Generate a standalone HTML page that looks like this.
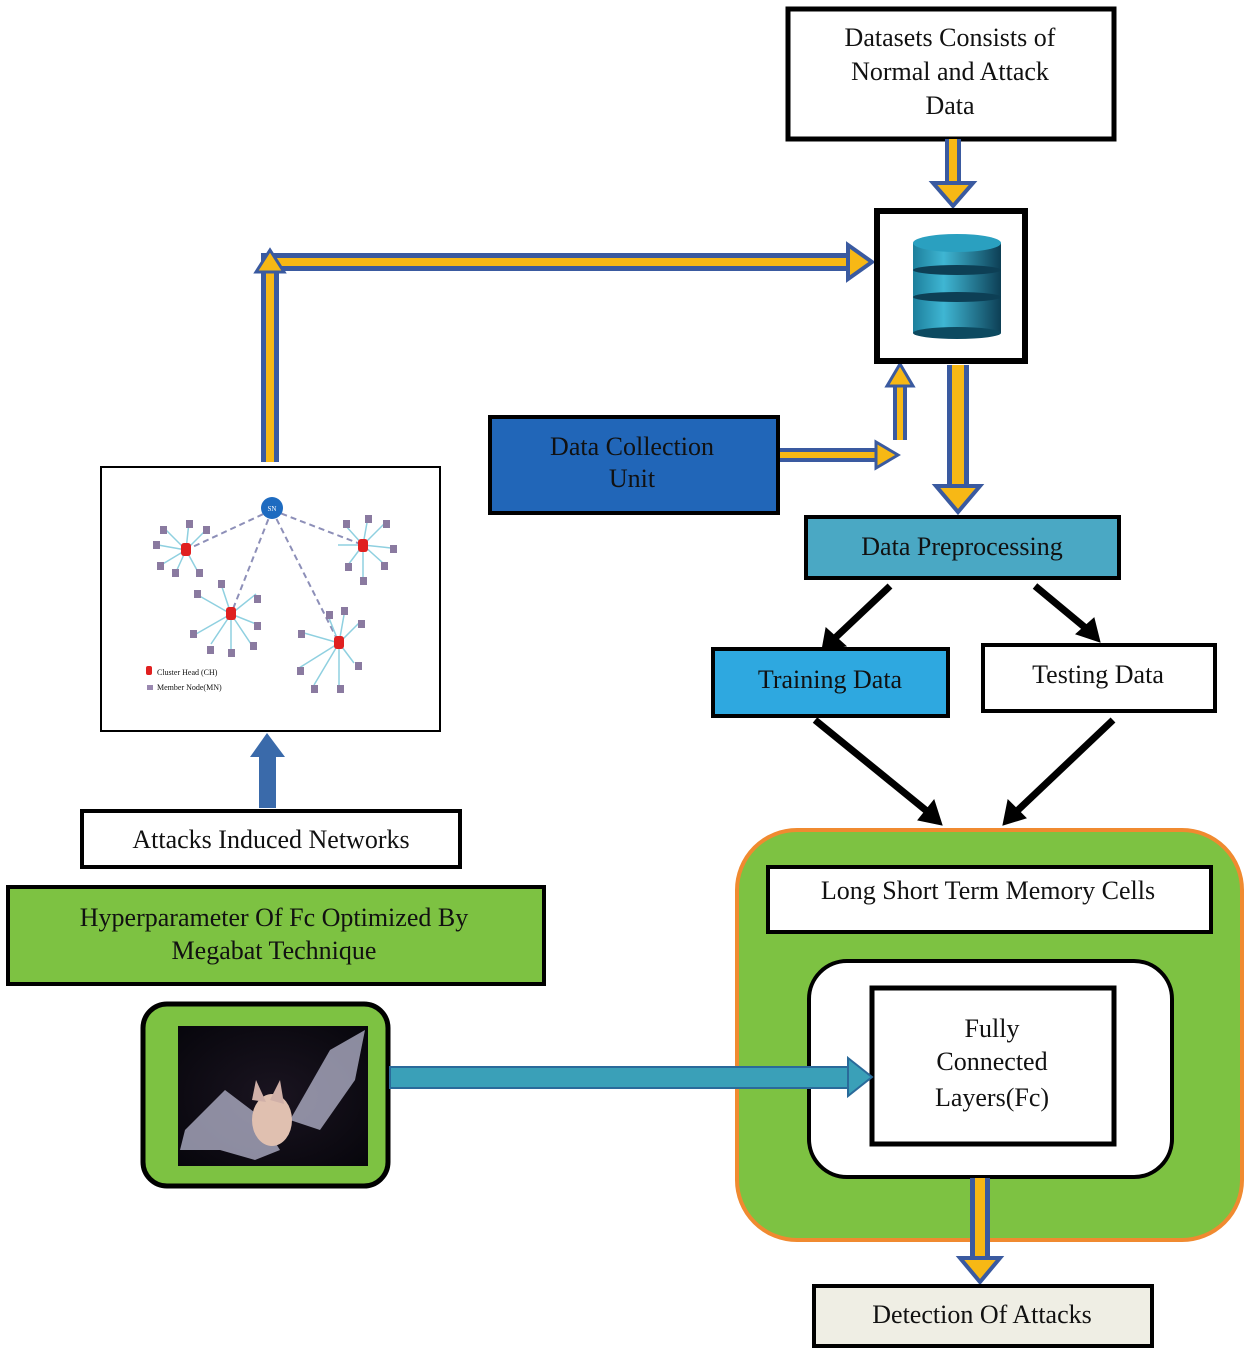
<!DOCTYPE html>
<html><head><meta charset="utf-8"><style>
html,body{margin:0;padding:0;background:#fff;}
svg{display:block;}
text{font-family:"Liberation Serif",serif;font-size:26px;fill:#111;}
</style></head><body>
<svg width="1250" height="1354" viewBox="0 0 1250 1354" xmlns="http://www.w3.org/2000/svg">
<defs>
<linearGradient id="cyl" x1="0" x2="1" y1="0" y2="0">
<stop offset="0" stop-color="#1d7f9c"/><stop offset="0.35" stop-color="#3fb6d3"/><stop offset="1" stop-color="#0d3f55"/>
</linearGradient>
<radialGradient id="batbg" cx="0.5" cy="0.5" r="0.7"><stop offset="0" stop-color="#1a1420"/><stop offset="1" stop-color="#07060c"/></radialGradient>
</defs>

<rect x="788" y="9" width="326" height="130" fill="#fff" stroke="#000" stroke-width="5"/>
<text x="950" y="46" text-anchor="middle">Datasets Consists of</text>
<text x="950" y="80" text-anchor="middle">Normal and Attack</text>
<text x="950" y="114" text-anchor="middle">Data</text>

<g stroke-linejoin="miter">
<line x1="953" y1="139" x2="953" y2="185" stroke="#3a5aa0" stroke-width="16"/>
<line x1="953" y1="139" x2="953" y2="185" stroke="#f7b815" stroke-width="8"/>
<polygon points="933,183 973,183 953,206" fill="#f7b815" stroke="#3a5aa0" stroke-width="4"/>
<line x1="958" y1="365" x2="958" y2="488" stroke="#3a5aa0" stroke-width="22"/>
<line x1="958" y1="365" x2="958" y2="488" stroke="#f7b815" stroke-width="12"/>
<polygon points="936,486 980,486 958,512" fill="#f7b815" stroke="#3a5aa0" stroke-width="4"/>
<polyline points="778,455 878,455" fill="none" stroke="#3a5aa0" stroke-width="14"/>
<polyline points="778,455 878,455" fill="none" stroke="#f7b815" stroke-width="6"/>
<polygon points="876,442 898,455 876,468" fill="#f7b815" stroke="#3a5aa0" stroke-width="3"/>
<polyline points="900,440 900,385" fill="none" stroke="#3a5aa0" stroke-width="14"/>
<polyline points="900,440 900,385" fill="none" stroke="#f7b815" stroke-width="6"/>
<polygon points="887,386 913,386 900,364" fill="#f7b815" stroke="#3a5aa0" stroke-width="3"/>
<polyline points="270,462 270,262 850,262" fill="none" stroke="#3a5aa0" stroke-width="18"/>
<polyline points="270,462 270,262 850,262" fill="none" stroke="#f7b815" stroke-width="8"/>
<polygon points="256,272 270,250 284,272" fill="#f7b815" stroke="#3a5aa0" stroke-width="3"/>
<polygon points="848,245 872,262 848,279" fill="#f7b815" stroke="#3a5aa0" stroke-width="4"/>
</g>

<rect x="877" y="211" width="148" height="150" fill="#fff" stroke="#000" stroke-width="6"/>
<g>
<rect x="913" y="297" width="88" height="36" fill="url(#cyl)"/>
<ellipse cx="957" cy="333" rx="44" ry="6" fill="#0d4a60"/>
<rect x="913" y="270" width="88" height="28" fill="url(#cyl)"/>
<ellipse cx="957" cy="297" rx="44" ry="5" fill="#0d3f55"/>
<rect x="913" y="243" width="88" height="28" fill="url(#cyl)"/>
<ellipse cx="957" cy="270" rx="44" ry="5" fill="#0d3f55"/>
<ellipse cx="957" cy="243" rx="44" ry="9" fill="#2aa0c0"/>
</g>

<rect x="490" y="417" width="288" height="96" fill="#2166b8" stroke="#000" stroke-width="4"/>
<text x="632" y="455" text-anchor="middle">Data Collection</text>
<text x="632" y="487" text-anchor="middle">Unit</text>

<rect x="101" y="467" width="339" height="264" fill="#fff" stroke="#000" stroke-width="2"/>
<g stroke="#8d8fb8" stroke-width="2" stroke-dasharray="6,4" fill="none">
<line x1="272" y1="510" x2="186" y2="550"/><line x1="272" y1="510" x2="363" y2="545"/>
<line x1="272" y1="510" x2="231" y2="614"/><line x1="272" y1="510" x2="339" y2="643"/>
</g>
<g stroke="#8fd0e0" stroke-width="1.5">
<path d="M186 550 l-20 -20 M186 550 l-28 -5 M186 550 l-25 15 M186 550 l-10 22 M186 550 l12 22 M186 550 l20 -20 M186 550 l3 -28"/>
<path d="M363 545 l-18 -20 M363 545 l5 -28 M363 545 l22 -22 M363 545 l28 3 M363 545 l20 18 M363 545 l-15 20 M363 545 l0 32 M363 545 l-25 0"/>
<path d="M231 614 l-35 -20 M231 614 l-10 -30 M231 614 l-35 20 M231 614 l-20 30 M231 614 l0 35 M231 614 l20 30 M231 614 l25 -20 M231 614 l25 10"/>
<path d="M339 643 l-35 -10 M339 643 l-10 -25 M339 643 l5 -28 M339 643 l20 -20 M339 643 l-40 25 M339 643 l-25 42 M339 643 l0 42 M339 643 l15 20"/>
</g>
<g fill="#8a7aa0">
<rect x="160" y="526" width="7" height="8"/><rect x="153" y="541" width="7" height="8"/><rect x="157" y="562" width="7" height="8"/><rect x="172" y="569" width="7" height="8"/><rect x="196" y="569" width="7" height="8"/><rect x="203" y="526" width="7" height="8"/><rect x="186" y="520" width="7" height="8"/>
<rect x="343" y="520" width="7" height="8"/><rect x="365" y="515" width="7" height="8"/><rect x="383" y="520" width="7" height="8"/><rect x="390" y="545" width="7" height="8"/><rect x="381" y="562" width="7" height="8"/><rect x="345" y="563" width="7" height="8"/><rect x="360" y="577" width="7" height="8"/>
<rect x="194" y="590" width="7" height="8"/><rect x="218" y="580" width="7" height="8"/><rect x="190" y="630" width="7" height="8"/><rect x="207" y="646" width="7" height="8"/><rect x="228" y="649" width="7" height="8"/><rect x="250" y="642" width="7" height="8"/><rect x="254" y="595" width="7" height="8"/><rect x="254" y="622" width="7" height="8"/>
<rect x="298" y="630" width="7" height="8"/><rect x="326" y="611" width="7" height="8"/><rect x="341" y="607" width="7" height="8"/><rect x="358" y="620" width="7" height="8"/><rect x="297" y="667" width="7" height="8"/><rect x="311" y="685" width="7" height="8"/><rect x="337" y="685" width="7" height="8"/><rect x="355" y="662" width="7" height="8"/>
</g>
<g fill="#e02020">
<rect x="181" y="543" width="10" height="13" rx="3"/><rect x="358" y="539" width="10" height="13" rx="3"/><rect x="226" y="607" width="10" height="13" rx="3"/><rect x="334" y="636" width="10" height="13" rx="3"/>
<rect x="146" y="666" width="6" height="9" rx="2"/>
</g>
<rect x="147" y="685" width="6" height="5" fill="#9a88b0"/>
<circle cx="272" cy="508" r="11" fill="#1e6bc0"/>
<text x="272" y="511" text-anchor="middle" style="font-size:7px;fill:#fff">SN</text>
<text x="157" y="675" style="font-size:8px">Cluster Head (CH)</text>
<text x="157" y="690" style="font-size:8px">Member Node(MN)</text>

<rect x="259" y="755" width="17" height="53" fill="#3a6aaa"/>
<polygon points="250,757 267,733 285,757" fill="#3a6aaa"/>

<rect x="82" y="811" width="378" height="56" fill="#fff" stroke="#000" stroke-width="4"/>
<text x="271" y="848" text-anchor="middle">Attacks Induced Networks</text>

<rect x="8" y="887" width="536" height="97" fill="#7dc242" stroke="#000" stroke-width="4"/>
<text x="274" y="926" text-anchor="middle">Hyperparameter Of  Fc Optimized By</text>
<text x="274" y="959" text-anchor="middle">Megabat Technique</text>

<rect x="143" y="1004" width="245" height="182" rx="24" fill="#7dc242" stroke="#000" stroke-width="5"/>
<rect x="178" y="1026" width="190" height="140" fill="url(#batbg)"/>
<g fill="#b8b8d0" opacity="0.75">
<path d="M290 1120 L330 1050 L365 1030 L355 1080 L320 1130 Z"/>
<path d="M258 1115 L225 1090 L185 1130 L180 1150 L220 1150 L255 1160 L280 1150 Z"/>
</g>
<ellipse cx="272" cy="1120" rx="20" ry="26" fill="#e0c0b0"/>
<polygon points="252,1100 256,1080 266,1102" fill="#d0b0a8"/><polygon points="270,1100 280,1080 284,1104" fill="#d0b0a8"/>

<rect x="806" y="517" width="313" height="61" fill="#4aa8c4" stroke="#000" stroke-width="4"/>
<text x="962" y="555" text-anchor="middle">Data Preprocessing</text>

<g stroke="#000" stroke-width="7" fill="#000">
<line x1="890" y1="586" x2="835" y2="638"/><polygon points="822,650 826,628 846,646" stroke-width="1"/>
<line x1="1035" y1="586" x2="1088" y2="630"/><polygon points="1100,642 1076,634 1094,618" stroke-width="1"/>
<line x1="815" y1="720" x2="928" y2="812"/><polygon points="942,825 918,820 934,800" stroke-width="1"/>
<line x1="1113" y1="720" x2="1016" y2="812"/><polygon points="1003,825 1008,800 1026,818" stroke-width="1"/>
</g>

<rect x="713" y="649" width="235" height="67" fill="#2ea8e0" stroke="#000" stroke-width="4"/>
<text x="830" y="688" text-anchor="middle">Training Data</text>
<rect x="983" y="645" width="232" height="66" fill="#fff" stroke="#000" stroke-width="4"/>
<text x="1098" y="683" text-anchor="middle">Testing Data</text>

<rect x="737" y="830" width="505" height="410" rx="60" fill="#7dc242" stroke="#f08a30" stroke-width="4"/>
<rect x="768" y="867" width="443" height="65" fill="#fff" stroke="#000" stroke-width="4"/>
<text x="988" y="899" text-anchor="middle">Long Short Term Memory Cells</text>
<rect x="809" y="961" width="363" height="216" rx="38" fill="#fff" stroke="#000" stroke-width="4"/>
<rect x="872" y="988" width="242" height="156" fill="#fff" stroke="#000" stroke-width="5"/>
<text x="992" y="1037" text-anchor="middle">Fully</text>
<text x="992" y="1070" text-anchor="middle">Connected</text>
<text x="992" y="1106" text-anchor="middle">Layers(Fc)</text>

<rect x="390" y="1067" width="460" height="21" fill="#3aa0b8" stroke="#2a6a9a" stroke-width="2"/>
<polygon points="848,1058 872,1077 848,1096" fill="#3aa0b8" stroke="#2a6a9a" stroke-width="2"/>

<line x1="980" y1="1178" x2="980" y2="1260" stroke="#3a5aa0" stroke-width="20"/>
<line x1="980" y1="1178" x2="980" y2="1260" stroke="#f7b815" stroke-width="10"/>
<polygon points="960,1258 1000,1258 980,1282" fill="#f7b815" stroke="#3a5aa0" stroke-width="4"/>

<rect x="814" y="1286" width="338" height="60" fill="#efeee4" stroke="#000" stroke-width="4"/>
<text x="982" y="1323" text-anchor="middle">Detection Of Attacks</text>
</svg>
</body></html>
